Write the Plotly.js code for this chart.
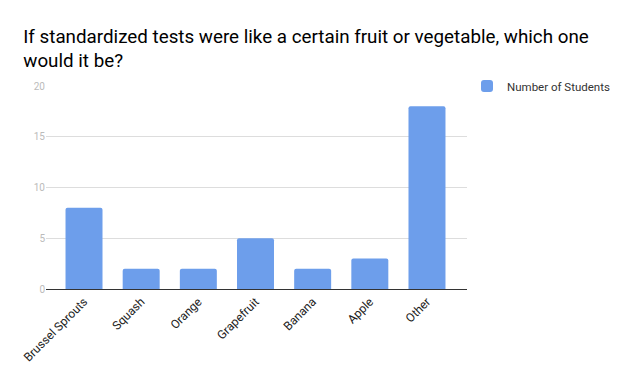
<!DOCTYPE html>
<html><head><meta charset="utf-8">
<script src="https://cdn.plot.ly/plotly-3.0.1.min.js"></script>
<style>html,body{margin:0;padding:0;background:#fff}#chart{width:629px;height:374px}</style>
</head><body><div id="chart"></div>
<script>
const categories = ["Brussel Sprouts","Squash","Orange","Grapefruit","Banana","Apple","Other"];
const numberOfStudents = [8,2,2,5,2,3,18];
const seriesName = "Number of Students";
const yTicks = [0,5,10,15,20];

const trace = {
  type: 'bar', x: categories, y: numberOfStudents, name: seriesName,
  marker: {color: '#6d9eeb', line: {width: 0}, cornerradius: 2},
  showlegend: true, hoverinfo: 'none'
};
const layout = {
  width: 629, height: 374,
  margin: {l: 46, r: 162, t: 86, b: 85},
  paper_bgcolor: '#fff', plot_bgcolor: '#fff',
  font: {family: 'Roboto, Arial, sans-serif'},
  title: {text: 'If standardized tests were like a certain fruit or vegetable, which one<br>would it be?',
    xref: 'container', x: 0.037, xanchor: 'left',
    yref: 'paper', y: 1.115, yanchor: 'bottom', pad: {t: 0, b: 0},
    font: {size: 18.8, color: '#000', family: 'Roboto, Arial, sans-serif'}},
  bargap: 0.353,
  xaxis: {tickangle: -45, tickfont: {size: 12, color: '#222'}, showline: true, linecolor: '#333', linewidth: 1,
    showgrid: false, ticks: '', fixedrange: true, automargin: false, range: [-0.665, 6.70]},
  yaxis: {range: [0, 20], tickvals: yTicks, ticktext: yTicks.map(String), tickfont: {size: 10, color: '#bbb'},
    gridcolor: '#ddd', zeroline: false, showline: false, ticks: '', ticklen: 0, fixedrange: true, automargin: false},
  legend: {x: 1.0, xanchor: 'left', y: 1.0, yanchor: 'middle', font: {size: 11.5, color: '#333'}, bgcolor: 'rgba(0,0,0,0)', borderwidth: 0}
};
Plotly.newPlot('chart', [trace], layout, {displayModeBar: false, staticPlot: true});
</script></body></html>
